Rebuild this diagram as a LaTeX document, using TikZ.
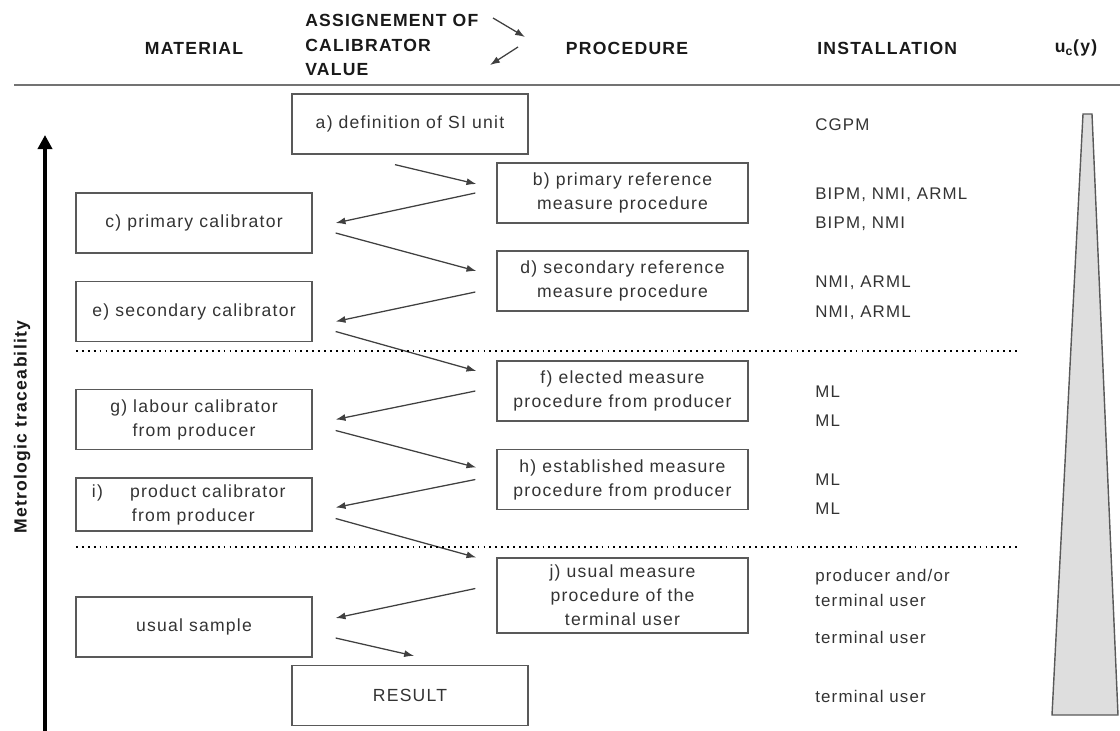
\documentclass[tikz,border=0pt]{standalone}
\usepackage{fontspec}
\setmainfont{Liberation Sans}[LetterSpace=7]
\usetikzlibrary{arrows.meta}

\begin{document}
\begin{tikzpicture}[x=0.025cm,y=-0.025cm]
\tikzstyle{every node}+=[inner sep=0pt, text=black!80]
\tikzstyle{box}=[draw=black!65, line width=0.9pt, minimum width=5.9cm, minimum height=1.5cm, align=center, font=\fontsize{12.5}{17}\selectfont]
\tikzstyle{pbox}=[box, minimum width=6.275cm]
\tikzstyle{head}=[font=\bfseries\fontsize{12.5}{17.5}\selectfont, text=black!90]
\tikzstyle{inst}=[anchor=west, font=\fontsize{12}{17}\selectfont]
\tikzstyle{flow}=[draw=black!75, line width=0.9pt, -{Latex[length=7pt,width=5pt]}]
\tikzstyle{sep}=[line width=1.3pt, dash pattern=on 1.3pt off 2.9pt]
\useasboundingbox (0,0) rectangle (1120,731);

% column heads
\node[head] (hmat) at (194,48) {MATERIAL};
\node[head, anchor=west, align=left] (hass) at (305,45) {ASSIGNEMENT OF\\CALIBRATOR\\VALUE};
\node[head] (hproc) at (627,48) {PROCEDURE};
\node[head, anchor=west] (hinst) at (817,48) {INSTALLATION};
\node[head] (huc) at (1076,48) {u\textsubscript{c}(y)};
\coordinate (hs1) at (493,18);
\coordinate (he1) at (525,37);
\coordinate (hs2) at (518,47);
\coordinate (he2) at (490,65);
\draw[flow] (hs1) -- (he1);
\draw[flow] (hs2) -- (he2);
\draw[black!55, line width=1.5pt] (14,85) -- (1120,85);

% boxes
\node[box] (a) at (410,124) {a) definition of SI unit};
\node[pbox] (b) at (622.5,193) {b) primary reference\\measure procedure};
\node[box] (c) at (194,223) {c) primary calibrator};
\node[pbox] (d) at (622.5,281) {d) secondary reference\\measure procedure};
\node[box] (e) at (194,311.5) {e) secondary calibrator};
\node[pbox] (f) at (622.5,391) {f) elected measure\\procedure from producer};
\node[box] (g) at (194,419.5) {g) labour calibrator\\from producer};
\node[pbox] (h) at (622.5,479.5) {h) established measure\\procedure from producer};
\node[box, minimum height=1.325cm, text width=5.1cm, align=left] (i) at (194,504.5) {i)\hspace{0.68cm}product calibrator\\\hspace*{1cm}from producer};
\node[pbox, minimum height=1.875cm] (j) at (622.5,595.5) {j) usual measure\\procedure of the\\terminal user};
\node[box] (u) at (194,627) {usual sample};
\node[box] (r) at (410,695.5) {RESULT};

% installation
\node[inst] (i1) at (815,125) {CGPM};
\node[inst] (i2) at (815,195) {BIPM, NMI, ARML};
\node[inst] (i3) at (815,224) {BIPM, NMI};
\node[inst] (i4) at (815,283) {NMI, ARML};
\node[inst] (i5) at (815,313) {NMI, ARML};
\node[inst] (i6) at (815,392) {ML};
\node[inst] (i7) at (815,421) {ML};
\node[inst] (i8) at (815,480) {ML};
\node[inst] (i9) at (815,509) {ML};
\node[inst] (i10) at (815,577) {producer and/or};
\node[inst] (i11) at (815,600) {terminal user};
\node[inst] (i12) at (815,637) {terminal user};
\node[inst] (i13) at (815,696) {terminal user};

% zig-zag
\draw[flow] ([shift={(-15,10)}]a.south) -- ([shift={(-20,-9)}]b.west);
\draw[flow] ([shift={(-21,0)}]b.west) -- ([shift={(23,0)}]c.east);
\draw[flow] ([shift={(23,10)}]c.east) -- ([shift={(-20,-10)}]d.west);
\draw[flow] ([shift={(-21,11)}]d.west) -- ([shift={(23,10)}]e.east);
\draw[flow] ([shift={(23,20)}]e.east) -- ([shift={(-20,-20)}]f.west);
\draw[flow] ([shift={(-21,0)}]f.west) -- ([shift={(23,0)}]g.east);
\draw[flow] ([shift={(23,11)}]g.east) -- ([shift={(-20,-12)}]h.west);
\draw[flow] ([shift={(-21,0)}]h.west) -- ([shift={(23,3)}]i.east);
\draw[flow] ([shift={(23,14)}]i.east) -- ([shift={(-20,-38)}]j.west);
\draw[flow] ([shift={(-21,-7)}]j.west) -- ([shift={(23,-9)}]u.east);
\draw[flow] ([shift={(23,11)}]u.east) -- ([shift={(4,-9)}]r.north);

% separators
\draw[sep] (76,351) -- (1017,351);
\draw[sep] (76,547) -- (1017,547);

% uncertainty wedge
\filldraw[fill=black!13, draw=black!65, line width=1pt] (1083,114) -- (1092,114) -- (1118,715) -- (1052,715) -- cycle;

% traceability axis
\coordinate (tbot) at (45,731);
\coordinate (ttop) at (45,135);
\draw[line width=2.6pt, -{Triangle[length=10pt,width=10pt]}] (tbot) -- (ttop);
\node[font=\bfseries\fontsize{12.5}{15}\selectfont, rotate=90, text=black!90] (trace) at (22,427) {Metrologic traceability};
\end{tikzpicture}
\end{document}
